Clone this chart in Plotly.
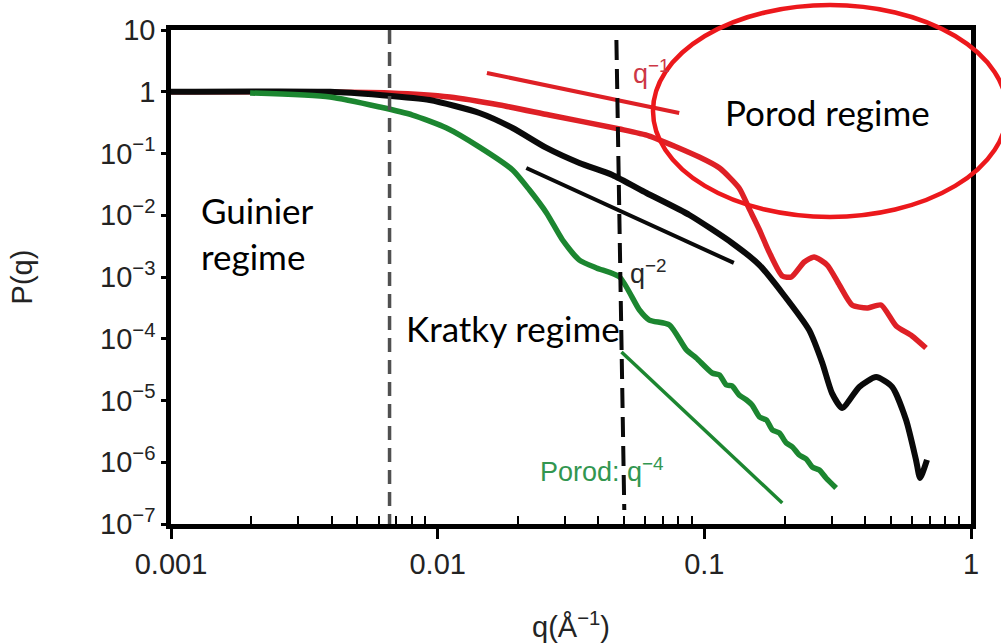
import plotly.graph_objects as go

# ---- scattering curves P(q) on log-log axes ----
q_red = [0.001, 0.00304, 0.00661, 0.0111, 0.0171, 0.0262, 0.0481, 0.0622, 0.0957,
         0.114, 0.135, 0.148, 0.161, 0.175, 0.196, 0.212, 0.237, 0.258, 0.289,
         0.321, 0.358, 0.407, 0.460, 0.524, 0.601, 0.678]
p_red = [1.0, 1.0, 0.955, 0.822, 0.610, 0.420, 0.249, 0.192, 0.0877,
         0.0582, 0.0276, 0.0122, 0.00577, 0.00254, 0.00104, 0.00100, 0.00175, 0.00211, 0.00156,
         0.000741, 0.000352, 0.000315, 0.000352, 0.000161, 0.000111, 0.0000708]

q_black = [0.001, 0.00395, 0.00607, 0.00933, 0.01435, 0.0191, 0.0256, 0.0340, 0.0452,
           0.0607, 0.0879, 0.127, 0.161, 0.196, 0.247, 0.277, 0.301, 0.329, 0.381,
           0.441, 0.506, 0.571, 0.622, 0.644, 0.684]
p_black = [1.0, 1.0, 0.886, 0.735, 0.453, 0.259, 0.123, 0.0702, 0.0449,
           0.0229, 0.0101, 0.00356, 0.00156, 0.000551, 0.000139, 0.0000405, 0.0000132, 0.00000757, 0.0000166,
           0.0000240, 0.0000166, 0.00000483, 0.00000109, 0.000000556, 0.00000109]

q_green = [0.00198, 0.00395, 0.00607, 0.00805, 0.0108, 0.01435, 0.0191, 0.0221, 0.0256,
           0.0294, 0.0340, 0.0394, 0.0481, 0.0571, 0.0622, 0.0740, 0.0857, 0.0933, 0.107,
           0.114, 0.121, 0.127, 0.135, 0.144, 0.151, 0.161, 0.171, 0.180, 0.191, 0.203,
           0.214, 0.227, 0.241, 0.254, 0.270, 0.286, 0.312]
p_green = [0.955, 0.822, 0.566, 0.420, 0.259, 0.127, 0.0541, 0.0256, 0.0109,
           0.00397, 0.00188, 0.00140, 0.00100, 0.000292, 0.000201, 0.000167, 0.0000658, 0.0000488, 0.0000279,
           0.0000259, 0.0000178, 0.0000172, 0.0000123, 0.0000102, 0.00000845, 0.00000541, 0.00000483,
           0.00000333, 0.00000298, 0.00000205, 0.00000177, 0.00000131, 0.00000113, 0.000000838,
           0.000000748, 0.000000556, 0.000000383]

# ---- power-law guide lines ----
q_slope1 = [0.0153, 0.0805]
p_slope1 = [2.01, 0.453]
q_slope2 = [0.0215, 0.129]
p_slope2 = [0.0582, 0.00169]
q_slope4 = [0.0489, 0.196]
p_slope4 = [0.0000610, 0.000000219]

# ---- regime boundaries ----
q_guinier = [0.0066, 0.0066]
p_guinier = [10.0, 1e-7]
q_kratky = [0.0468, 0.0501]
p_kratky = [6.89, 1.69e-7]

# ---- axis ticks ----
x_ticks = [0.001, 0.01, 0.1, 1]
x_ticktext = ["0.001", "0.01", "0.1", "1"]
x_minor = [k * 10.0 ** e for e in (-3, -2, -1) for k in range(2, 10)]
y_ticks = [10, 1, 1e-1, 1e-2, 1e-3, 1e-4, 1e-5, 1e-6, 1e-7]
y_ticktext = ["10", "1"] + ["10<sup>\u2212%d</sup>" % n for n in range(1, 8)]

RED = "rgb(222,32,38)"
BLACK = "rgb(10,10,10)"
GREEN = "rgb(28,134,48)"
ARIAL = "Liberation Sans, Arial, sans-serif"
CALIBRI = "Lato, Carlito, Calibri, sans-serif"
AXIS_TEXT = "rgb(35,35,35)"

fig = go.Figure()

def line(x, y, color, width, dash="solid"):
    fig.add_trace(go.Scatter(x=x, y=y, mode="lines", showlegend=False, hoverinfo="skip",
                             line=dict(color=color, width=width, dash=dash,
                                       shape="spline", smoothing=0.6)))

line(q_red, p_red, RED, 5.5)
line(q_black, p_black, BLACK, 6)
line(q_green, p_green, GREEN, 5.5)
line(q_slope1, p_slope1, RED, 4)
line(q_slope2, p_slope2, BLACK, 4)
line(q_slope4, p_slope4, GREEN, 3.5)
line(q_guinier, p_guinier, "rgb(80,80,80)", 3.5, "14px,8px")
line(q_kratky, p_kratky, BLACK, 4, "20px,9px")

annotations = [
    # regime labels
    dict(xref="paper", yref="paper", x=0.035, y=0.59, xanchor="left", yanchor="middle",
         text="Guinier<br>regime", align="left", showarrow=False,
         font=dict(family=CALIBRI, size=35, color="black")),
    dict(xref="paper", yref="paper", x=0.291, y=0.397, xanchor="left", yanchor="middle",
         text="Kratky regime", showarrow=False,
         font=dict(family=CALIBRI, size=35, color="black")),
    dict(xref="paper", yref="paper", x=0.821, y=0.835, xanchor="center", yanchor="middle",
         text="Porod regime", showarrow=False,
         font=dict(family=CALIBRI, size=35, color="black")),
    # slope labels
    dict(xref="paper", yref="paper", x=0.575, y=0.915, xanchor="left", yanchor="middle",
         text="q<sup>\u22121</sup>", showarrow=False,
         font=dict(family=ARIAL, size=27, color="rgb(205,55,70)")),
    dict(xref="paper", yref="paper", x=0.571, y=0.51, xanchor="left", yanchor="middle",
         text="q<sup>\u22122</sup>", showarrow=False,
         font=dict(family=ARIAL, size=27, color="rgb(40,40,40)")),
    dict(xref="paper", yref="paper", x=0.459, y=0.11, xanchor="left", yanchor="middle",
         text="Porod: q<sup>\u22124</sup>", showarrow=False,
         font=dict(family=ARIAL, size=27, color="rgb(50,150,80)")),
]

fig.update_layout(
    width=1001, height=643,
    margin=dict(l=171, r=30, t=30, b=119),
    paper_bgcolor="white", plot_bgcolor="white",
    annotations=annotations,
    shapes=[dict(type="circle", xref="paper", yref="paper",
                 x0=0.6025, x1=1.045, y0=0.6215, y1=1.0506,
                 line=dict(color="rgb(236,24,28)", width=4.5), layer="above")],
    xaxis=dict(type="log", range=[-3, 0], showgrid=False, zeroline=False,
               automargin=False,
               showline=True, linecolor="black", linewidth=4.5, mirror=True,
               tickmode="array", tickvals=x_ticks, ticktext=x_ticktext,
               ticks="outside", ticklen=10, tickwidth=3, tickcolor="black",
               ticklabelstandoff=0,
               minor=dict(tickmode="array", tickvals=x_minor, ticks="inside",
                          ticklen=8, tickwidth=2, tickcolor="black", showgrid=False),
               tickfont=dict(family=ARIAL, size=29, color=AXIS_TEXT),
               title=dict(text="q(\u00c5<sup>\u22121</sup>)", standoff=42,
                          font=dict(family=ARIAL, size=29, color=AXIS_TEXT))),
    yaxis=dict(type="log", range=[-7, 1], showgrid=False, zeroline=False,
               automargin=False,
               showline=True, linecolor="black", linewidth=4.5, mirror=True,
               tickmode="array", tickvals=y_ticks, ticktext=y_ticktext,
               ticks="outside", ticklen=5, tickwidth=3, tickcolor="black",
               tickfont=dict(family=ARIAL, size=29, color=AXIS_TEXT),
               title=dict(text="P(q)", standoff=60,
                          font=dict(family=ARIAL, size=29, color=AXIS_TEXT))),
)

fig.write_html("out.html")
